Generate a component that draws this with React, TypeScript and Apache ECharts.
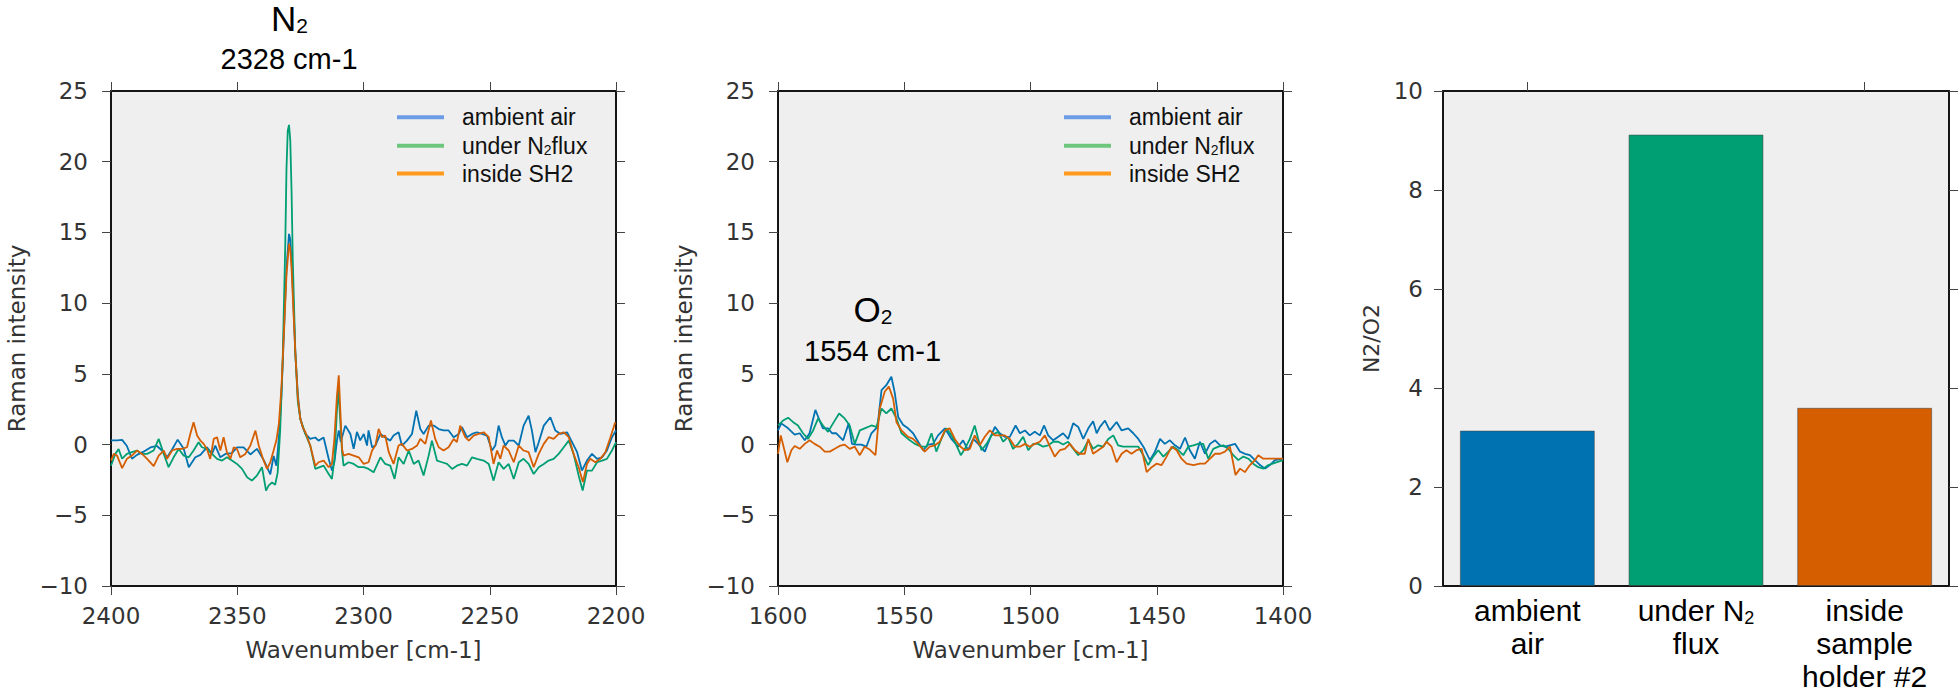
import React, { useEffect, useRef } from 'react';
import * as echarts from 'echarts';

// ---------- DATA ----------
const seriesNames = ['ambient air', 'under N2 flux', 'inside SH2'];
const lineColors = ['#0072B2', '#009E73', '#D55E00'];
const legendColors = ['#6c9ce6', '#6cc77c', '#ff9a1e'];

// N2 region spectra: [wavenumber, intensity]
const n2Ambient = [
  [2400, 0.3], [2397.5, 0.3], [2395.6, 0.33], [2393.7, -0.1], [2391.7, -1.0], [2389.7, -0.73], [2387.1, -0.5], [2384.4, -0.2],
  [2381.8, -0.1], [2379.8, -0.42], [2377.8, -0.9], [2375.8, -0.35], [2373.6, 0.35], [2371.2, -0.3], [2369.2, -1.6], [2366.6, -0.9],
  [2364.6, -0.73], [2362.0, -0.2], [2360.0, -0.66], [2358.7, -0.07], [2356.7, -0.9], [2354.7, -0.66], [2352.1, -0.6], [2350.1, -0.2],
  [2347.5, -0.2], [2344.8, -0.7], [2342.2, -0.3], [2339.5, -1.1], [2336.9, -2.1], [2335.6, -0.8], [2334.5, -1.5], [2333.5, 0.5],
  [2332.5, 3.5], [2331.5, 8], [2330.5, 12.5], [2329.5, 14.9], [2329, 14.5], [2328.5, 13], [2328, 11], [2327, 6.5], [2326, 3.5],
  [2325, 1.8], [2324, 1.2], [2323, 0.75], [2321.1, 0.4], [2319.1, 0.5], [2317.8, 0.28], [2315.8, 0.5], [2313.8, -1.0],
  [2312.5, -1.84], [2311.5, -1.2], [2310.5, 0.3], [2309.8, 1.0], [2309, 0.2], [2307.2, 1.34], [2305.2, 0.75], [2303.9, -0.3],
  [2302.6, 0.9], [2301.3, 0.3], [2299.9, 0.75], [2298.6, -0.07], [2298.0, 1.0], [2296.6, -0.2], [2295.3, -0.07], [2293.3, 0.75],
  [2291.4, 0.5], [2289.4, 0.28], [2288.1, 0.64], [2286.1, 0.87], [2284.8, -0.07], [2282.8, 0.28], [2280.8, 0.75], [2279.1, 2.4],
  [2277.5, 1.1], [2276.2, 0.75], [2274.2, 1.34], [2272.2, 1.34], [2270.2, 1.1], [2268.3, 1.0], [2266.3, 1.0], [2264.3, 0.52],
  [2262.3, 0.75], [2261.0, 1.23], [2259.0, 0.52], [2257.0, 0.75], [2255.1, 0.87], [2253.1, 0.75], [2251.1, 0.64], [2249.1, -0.42],
  [2247.8, -0.07], [2246.5, 1.34], [2245.2, 0.52], [2243.8, -0.07], [2242.5, 0.28], [2240.5, 0.28], [2238.5, -0.07], [2236.6, 1.34],
  [2234.6, 2.05], [2233.3, 0.99], [2231.9, -0.54], [2230.6, 0.17], [2228.6, 1.34], [2226.0, 1.93], [2224.0, 0.99], [2222.0, 0.75],
  [2219.4, 0.87], [2217.4, 0.17], [2215.4, -0.54], [2213.5, -1.84], [2211.5, -1.13], [2209.5, -0.66], [2207.5, -1.01],
  [2205.5, -0.9], [2203.6, -0.42], [2201.6, 0.52], [2200, 0.99],
];
const n2Flux = [
  [2400, -1.5], [2398.3, -0.66], [2397.0, -0.31], [2395.6, -1.0], [2393.7, -0.66], [2391.7, -0.54], [2389.7, -0.42], [2387.7, -0.66],
  [2385.7, -0.66], [2383.1, -0.42], [2381.1, 0.4], [2379.1, -0.66], [2377.2, -1.6], [2375.2, -0.9], [2373.2, -0.31], [2371.2, -0.78],
  [2369.2, -0.9], [2367.3, -0.42], [2365.3, 0.17], [2364.0, -0.19], [2362.0, -0.31], [2360.0, -0.66], [2358.0, -1.01], [2356.0, -1.13],
  [2354.1, -0.9], [2352.1, -1.13], [2350.1, -1.37], [2348.1, -1.72], [2346.1, -2.31], [2344.2, -2.55], [2342.2, -2.19], [2340.2, -1.6],
  [2338.6, -3.25], [2337.6, -2.9], [2336.2, -2.67], [2335, -2.85], [2334, -2.0], [2333, 1.0], [2332, 6], [2331, 14],
  [2330.5, 19.5], [2330, 22.2], [2329.5, 22.6], [2329, 21.5], [2328.5, 18], [2328, 13], [2327, 6.5], [2326, 3.0], [2325, 1.8],
  [2324, 1.3], [2323, 0.75], [2321.1, -0.07], [2319.1, -1.72], [2315.8, -1.49], [2313.8, -2.08], [2312.5, -2.43], [2311.5, -1.0],
  [2310.5, 2.5], [2310, 4.0], [2309.3, 2.0], [2308.5, -0.5], [2307.9, -1.49], [2305.9, -1.25], [2303.9, -1.37], [2301.9, -1.6],
  [2299.9, -1.6], [2298.0, -1.72], [2296.0, -1.96], [2293.3, -0.9], [2291.4, -1.37], [2289.4, -1.49], [2287.7, -2.43], [2286.1, -0.9],
  [2284.1, -1.37], [2282.1, -0.42], [2280.1, -1.37], [2278.2, -1.13], [2276.2, -2.19], [2274.2, -0.78], [2272.9, 0.28], [2270.9, -1.13],
  [2268.9, -1.25], [2266.9, -1.37], [2264.9, -1.72], [2263.0, -1.49], [2261.0, -1.37], [2259.0, -1.49], [2257.0, -0.9], [2255.1, -1.01],
  [2252.4, -1.13], [2250.4, -1.37], [2248.5, -2.55], [2246.5, -1.25], [2244.5, -1.72], [2242.5, -1.37], [2240.5, -2.43], [2238.5, -1.25],
  [2236.6, -1.01], [2234.6, -1.37], [2232.6, -2.08], [2230.6, -1.6], [2228.6, -1.37], [2226.7, -1.13], [2224.7, -1.01], [2222.7, -0.66],
  [2220.7, -0.19], [2218.7, 0.28], [2216.8, -0.66], [2214.8, -2.19], [2213.2, -3.25], [2211.5, -1.84], [2209.5, -1.84], [2207.5, -1.25],
  [2205.5, -1.13], [2203.6, -1.01], [2201.6, -0.42], [2200, 0.17],
];
const n2Inside = [
  [2400, -1.13], [2398.9, -0.66], [2397.6, -0.78], [2395.6, -1.67], [2393.7, -1.01], [2391.7, -0.78], [2389.7, -0.42], [2387.7, -0.66],
  [2385.7, -1.01], [2383.1, -1.53], [2381.1, -0.78], [2379.1, -0.42], [2377.8, -1.01], [2375.8, -0.42], [2373.9, -0.31], [2371.9, -0.31],
  [2369.9, -0.19], [2368.6, 0.75], [2367.3, 1.58], [2365.9, 0.64], [2364.6, 0.28], [2363.3, 0.05], [2362.0, -0.31], [2360.7, -1.01],
  [2359.3, 0.4], [2358.0, 0.52], [2356.7, -0.42], [2355.4, 0.52], [2354.1, -0.54], [2352.7, -1.01], [2351.4, -0.19], [2350.1, -0.31],
  [2348.8, -0.9], [2346.8, -0.66], [2344.8, -0.07], [2342.8, 0.99], [2341.5, -0.07], [2339.8, -1.01], [2338.2, -1.72], [2336.9, -1.25],
  [2335.6, -0.42], [2334.5, 0.3], [2333.5, 1.5], [2332.5, 4], [2331.5, 8], [2330.5, 12], [2329.5, 14.2], [2329, 13.8],
  [2328.5, 12.5], [2328, 10.5], [2327, 6.5], [2326, 3.3], [2325, 1.8], [2324, 1.2], [2323, 0.87], [2321.1, -0.07], [2319.1, -1.5],
  [2317.8, -1.25], [2315.8, -1.13], [2313.8, -1.6], [2312.5, -1.37], [2311.5, 0.5], [2310.5, 3.5], [2309.8, 4.9], [2309.2, 2.5],
  [2308.5, -0.3], [2307.9, -0.78], [2305.9, -0.66], [2303.9, -0.78], [2301.9, -0.9], [2299.9, -1.37], [2298.0, -1.25], [2296.6, -0.42],
  [2295.3, -0.07], [2294.0, 1.11], [2292.7, 0.52], [2291.4, 0.64], [2290.0, -0.54], [2288.1, -1.37], [2286.1, -0.07], [2284.8, 0.05],
  [2282.8, -0.42], [2280.8, -0.31], [2278.8, -0.07], [2277.5, 0.4], [2275.5, 0.05], [2273.3, 1.7], [2271.6, 0.4], [2270.2, -0.19],
  [2268.3, -0.42], [2266.3, -0.19], [2264.3, 0.4], [2263.0, 0.17], [2261.7, 1.34], [2259.7, 0.52], [2258.3, 0.28], [2256.4, 0.64],
  [2254.4, 0.75], [2252.4, 0.87], [2250.4, 0.52], [2248.5, -1.37], [2247.1, -0.42], [2245.8, -1.01], [2244.5, -0.07], [2242.5, -0.42],
  [2240.5, -1.25], [2238.5, -0.07], [2236.6, -0.42], [2234.6, -0.54], [2232.6, -1.6], [2230.6, -0.66], [2228.6, 0.05], [2226.7, 0.52],
  [2224.7, 0.4], [2222.7, 0.75], [2220.7, 0.87], [2218.7, 0.52], [2216.8, -0.66], [2214.8, -1.6], [2213.1, -2.65], [2211.5, -1.37],
  [2210.2, -1.01], [2208.2, -1.25], [2206.2, -1.01], [2204.2, -0.54], [2202.2, 0.52], [2200.3, 1.58],
];

// O2 region spectra
const o2Ambient = [
  [1600, 1.0], [1598.7, 1.5], [1596.0, 1.15], [1593.4, 0.7], [1591.4, 0.8], [1589.4, 0.3], [1587.5, 0.8], [1585.2, 2.45],
  [1583.5, 1.7], [1582.2, 1.15], [1580.2, 1.15], [1578.6, 0.8], [1576.9, 0.8], [1574.2, 0.3], [1572.0, 1.5], [1570.7, 0.05],
  [1569.0, 0], [1567.0, 0], [1565.0, -0.15], [1563.0, 0.8], [1560.6, 1.25], [1559.0, 3.85], [1557.1, 4.2], [1555.1, 4.8],
  [1553.8, 3.7], [1552.4, 1.95], [1550.5, 1.4], [1548.5, 1.15], [1546.5, 0.8], [1544.5, 0.2], [1542.5, -0.4], [1540.6, 0],
  [1538.6, 0.05], [1536.6, 0.65], [1533.9, 1.15], [1531.3, 0.4], [1528.7, -0.15], [1526.7, 0.3], [1524.7, -0.4], [1522.7, 0.4],
  [1520.7, 0.05], [1518.1, -0.5], [1516.1, 0.4], [1514.1, 1.25], [1512.2, 0.8], [1510.2, 0.55], [1508.2, 0.55], [1505.9, 1.35],
  [1504.2, 0.8], [1502.2, 1.0], [1500.3, 0.65], [1498.3, 0.9], [1496.3, 0.65], [1494.6, 1.35], [1493.0, 0.65], [1491.0, 0.3],
  [1489.0, 0.55], [1487.1, 0.8], [1485.1, 0.4], [1483.1, 1.5], [1481.1, 1.25], [1479.1, 0.4], [1477.1, 1.15], [1475.2, 1.65],
  [1473.8, 0.8], [1472.5, 1.25], [1470.5, 1.7], [1468.6, 1.0], [1465.9, 1.6], [1463.9, 1.0], [1461.3, 1.15], [1459.3, 0.8],
  [1457.3, 0.4], [1455.3, -0.15], [1452.7, -1.1], [1450.7, -0.5], [1448.7, 0.4], [1446.8, 0.05], [1444.8, 0.3], [1442.8, -0.05],
  [1440.8, -0.3], [1438.8, 0.5], [1436.9, -0.4], [1434.9, -1.0], [1432.9, 0.2], [1430.9, -0.65], [1428.9, 0.05], [1426.9, 0.3],
  [1424.9, -0.05], [1423.0, -0.15], [1421.0, -0.05], [1419.0, 0.05], [1417.0, -0.5], [1415.1, -0.65], [1413.1, -0.75],
  [1411.1, -1.1], [1409.1, -1.45], [1407.1, -1.7], [1405.2, -1.45], [1403.2, -1.1], [1400, -1.0],
];
const o2Flux = [
  [1600, 1.35], [1598.0, 1.7], [1596.0, 1.9], [1594.1, 1.6], [1592.1, 1.35], [1590.1, 0.8], [1588.1, 0.4], [1586.1, 1.0],
  [1584.1, 1.85], [1582.2, 1.35], [1580.2, 0.9], [1578.2, 1.5], [1575.8, 2.2], [1573.6, 1.85], [1571.6, 1.35], [1569.6, 0.05],
  [1567.6, 1.0], [1565.7, 1.15], [1563.0, 1.35], [1561.0, 1.25], [1559.0, 2.55], [1557.1, 2.2], [1555.1, 2.55], [1553.1, 1.85],
  [1551.1, 0.8], [1548.5, 0.4], [1545.8, 0.05], [1543.2, -0.15], [1541.2, -0.15], [1539.2, 0.8], [1537.3, -0.5], [1535.3, 0.4],
  [1533.3, 1.15], [1531.3, 0.65], [1529.3, -0.05], [1527.6, -0.75], [1526.0, -0.3], [1524.0, 0.4], [1522.1, 1.35], [1520.7, 0.4],
  [1519.4, -0.4], [1517.4, 0.05], [1515.5, 0.65], [1512.8, 0.9], [1510.8, 0.2], [1508.9, 0.55], [1506.9, -0.3], [1504.9, 0.05],
  [1502.9, 0.55], [1500.9, -0.4], [1498.9, 0.05], [1497.0, 0.05], [1495.0, -0.15], [1493.0, -0.05], [1491.0, 0.2], [1489.0, 0.2],
  [1487.1, 0], [1485.1, 0.2], [1483.1, -0.3], [1481.1, -0.75], [1479.1, -0.4], [1477.1, 0.3], [1475.2, -0.3], [1473.2, -0.05],
  [1471.2, -0.15], [1469.2, 0.4], [1467.2, 0.65], [1465.3, -0.05], [1463.3, -0.15], [1461.3, -0.15], [1459.3, -0.15],
  [1457.3, -0.15], [1455.3, -0.75], [1453.4, -1.45], [1451.4, -0.85], [1449.4, -0.4], [1447.4, -0.85], [1445.4, -0.5],
  [1443.5, -0.15], [1441.5, -0.4], [1439.5, -0.75], [1437.5, -0.15], [1435.5, -0.05], [1433.6, 0.05], [1431.6, 0.05],
  [1429.6, -1.0], [1427.6, -0.3], [1425.6, -0.15], [1423.6, -0.05], [1421.7, -0.3], [1419.7, -0.75], [1417.7, -1.1],
  [1415.7, -0.85], [1413.7, -1.0], [1411.8, -1.35], [1409.8, -1.6], [1407.8, -1.7], [1405.8, -1.45], [1400, -1.1],
];
const o2Inside = [
  [1600, -0.65], [1598.9, 0.65], [1597.6, -0.3], [1596.3, -1.25], [1594.7, -0.4], [1593.4, -0.1], [1591.4, -0.3], [1589.4, 0.05],
  [1587.5, 0.3], [1585.5, 0.05], [1583.5, -0.15], [1581.5, -0.5], [1579.5, -0.5], [1577.5, -0.3], [1575.6, -0.1], [1573.6, 0],
  [1571.6, -0.3], [1569.6, -0.15], [1567.6, -0.75], [1565.7, -0.15], [1563.7, -0.35], [1561.4, -0.75], [1559.7, 2.55],
  [1557.7, 3.75], [1556.1, 4.1], [1554.4, 3.25], [1553.1, 1.6], [1551.1, 1.0], [1548.5, 0.55], [1546.5, 0.4], [1544.5, 0.05],
  [1541.9, -0.5], [1539.9, -0.15], [1537.9, -0.05], [1535.9, 0.2], [1533.9, 1.0], [1532.0, 1.15], [1530.0, 0.4], [1528.0, -0.1],
  [1526.0, -0.4], [1524.0, -0.3], [1522.1, 0.65], [1520.1, -0.05], [1518.1, 0.55], [1516.1, 1.0], [1514.1, 0.65], [1512.2, 0.65],
  [1510.2, 0.65], [1508.2, 0.4], [1506.2, -0.15], [1504.2, -0.15], [1502.2, 0.05], [1500.3, -0.15], [1498.3, 0.05], [1496.3, 0.2],
  [1494.3, 0.65], [1492.3, -0.15], [1490.4, -0.85], [1488.4, -0.4], [1486.4, -0.3], [1484.4, 0.05], [1482.4, -0.4], [1480.5, -0.65],
  [1478.5, -0.65], [1477.1, 0.4], [1475.2, -0.65], [1473.2, -0.4], [1471.2, -0.15], [1469.9, 0.2], [1467.9, -0.15], [1465.9, -1.25],
  [1463.9, -0.65], [1462.0, -0.4], [1460.0, -0.65], [1458.0, -0.4], [1456.0, -0.3], [1454.0, -1.95], [1452.0, -1.6], [1450.1, -1.35],
  [1448.1, -1.45], [1446.1, -0.85], [1444.1, -0.15], [1442.1, -0.4], [1440.2, -1.0], [1438.2, -1.35], [1435.5, -1.45],
  [1432.9, -1.35], [1430.9, -1.35], [1428.9, -1.0], [1426.9, -0.65], [1424.9, -0.65], [1423.0, -0.5], [1421.0, -0.15],
  [1418.8, -2.15], [1417.0, -1.7], [1415.1, -1.95], [1413.1, -1.45], [1411.1, -1.1], [1409.8, -0.75], [1407.8, -1.0],
  [1405.8, -1.0], [1400, -1.0],
];

const n2Range = [2200, 2400];
const o2Range = [1400, 1600];
const intensityRange = [-10, 25];

const barCategories = ['ambient air', 'under N2 flux', 'inside sample holder #2'];
const barValues = [3.14, 9.12, 3.6];
const barColors = ['#0072B2', '#009E73', '#D55E00'];
const ratioRange = [0, 10];

// ---------- STYLE / LAYOUT ----------
const TICK_FONT = 'DejaVu Sans';
const ANNO_FONT = 'Liberation Sans, Arial, sans-serif';
const grids = [
  { left: 111, top: 91, width: 505, height: 495 },
  { left: 778, top: 91, width: 505, height: 495 },
  { left: 1443, top: 91, width: 506, height: 495 },
];

const fmt = (v: number) => (v < 0 ? '\u2212' + Math.abs(v) : String(v));

const axisLineStyle = { color: '#151515', width: 2 };
const tickStyle = { show: true, inside: false, length: 9, lineStyle: { color: '#444', width: 1 } };
const tickLabel = { fontFamily: TICK_FONT, fontSize: 23, color: '#333' };

function spectrumAxes(gi: number, range: number[]) {
  const x = [
    {
      gridIndex: gi, type: 'value', min: range[0], max: range[1], interval: 50, inverse: true,
      axisLine: { show: true, onZero: false, lineStyle: axisLineStyle },
      axisTick: tickStyle,
      axisLabel: { ...tickLabel, margin: 18, formatter: (v: number) => String(v) },
      splitLine: { show: false },
      name: 'Wavenumber [cm-1]', nameLocation: 'middle', nameGap: 52,
      nameTextStyle: { fontFamily: TICK_FONT, fontSize: 23, color: '#333' },
    },
    {
      gridIndex: gi, type: 'value', position: 'top', min: range[0], max: range[1], interval: 50, inverse: true,
      axisLine: { show: true, onZero: false, lineStyle: axisLineStyle },
      axisTick: tickStyle, axisLabel: { show: false }, splitLine: { show: false },
    },
  ];
  const y = [
    {
      gridIndex: gi, type: 'value', min: intensityRange[0], max: intensityRange[1], interval: 5,
      axisLine: { show: true, onZero: false, lineStyle: axisLineStyle },
      axisTick: tickStyle,
      axisLabel: { ...tickLabel, margin: 23, formatter: fmt },
      splitLine: { show: false },
      name: 'Raman intensity', nameLocation: 'middle', nameGap: 83, nameRotate: 90,
      nameTextStyle: { fontFamily: TICK_FONT, fontSize: 23, color: '#333' },
    },
    {
      gridIndex: gi, type: 'value', position: 'right', min: intensityRange[0], max: intensityRange[1], interval: 5,
      axisLine: { show: true, onZero: false, lineStyle: axisLineStyle },
      axisTick: tickStyle, axisLabel: { show: false }, splitLine: { show: false },
    },
  ];
  return { x, y };
}

function legendGraphics(panelLeft: number) {
  const rows = [117.3, 145.7, 173.5];
  const texts = ['ambient air', '{t|under N}{s|2}{t|flux}', 'inside SH2'];
  const els: any[] = [];
  rows.forEach((ry, i) => {
    els.push({
      type: 'line', silent: true, z: 50,
      shape: { x1: panelLeft + 286, y1: ry, x2: panelLeft + 333, y2: ry },
      style: { stroke: legendColors[i], lineWidth: 4 },
    });
    els.push({
      type: 'text', silent: true, z: 50, x: panelLeft + 351, y: ry,
      style: {
        text: texts[i], fill: '#111', fontFamily: ANNO_FONT, fontSize: 23,
        align: 'left', verticalAlign: 'middle',
        rich: {
          t: { fontFamily: ANNO_FONT, fontSize: 23, lineHeight: 23, fill: '#111' },
          s: { fontFamily: ANNO_FONT, fontSize: 14, lineHeight: 14, fill: '#111', verticalAlign: 'bottom' },
        },
      },
    });
  });
  return els;
}

function moleculeLabel(x: number, y: number, letter: string) {
  return {
    type: 'text', silent: true, z: 50, x, y,
    style: {
      text: `{a|${letter}}{b|2}`, align: 'center', verticalAlign: 'middle',
      rich: {
        a: { fontFamily: ANNO_FONT, fontSize: 35, lineHeight: 35, fill: '#000' },
        b: { fontFamily: ANNO_FONT, fontSize: 21, lineHeight: 21, fill: '#000', verticalAlign: 'bottom' },
      },
    },
  };
}
function plainLabel(x: number, y: number, text: string, size: number) {
  return {
    type: 'text', silent: true, z: 50, x, y,
    style: { text, fontFamily: ANNO_FONT, fontSize: size, fill: '#000', align: 'center', verticalAlign: 'middle' },
  };
}

const catLabelRich = [
  '{t|ambient}\n{t|air}',
  '{t|under N}{s|2}\n{t|flux}',
  '{t|inside}\n{t|sample}\n{t|holder #2}',
];

export default function App() {
  const ref = useRef<HTMLDivElement>(null);
  useEffect(() => {
    if (!ref.current) return;
    const chart = echarts.init(ref.current, undefined, { renderer: 'svg' });
    const a1 = spectrumAxes(0, n2Range);
    const a2 = spectrumAxes(1, o2Range);

    const lineSeries = (xi: number, yi: number, datasets: number[][][]) =>
      datasets.map((d, i) => ({
        type: 'line', name: seriesNames[i], xAxisIndex: xi, yAxisIndex: yi,
        data: d, showSymbol: false, symbol: 'none', smooth: false,
        lineStyle: { color: lineColors[i], width: 1.8 }, itemStyle: { color: lineColors[i] },
        z: 3 + i,
      }));

    const option: any = {
      animation: false,
      textStyle: { fontFamily: TICK_FONT },
      grid: grids.map((g) => ({
        ...g, containLabel: false, outerBoundsMode: 'none',
        show: true, backgroundColor: '#efefef', borderWidth: 0,
      })),
      xAxis: [
        ...a1.x, ...a2.x,
        {
          gridIndex: 2, type: 'category', data: barCategories,
          axisLine: { show: true, onZero: false, lineStyle: axisLineStyle },
          axisTick: { show: false },
          axisLabel: {
            margin: 8, interval: 0,
            formatter: (_v: string, idx: number) => catLabelRich[idx],
            rich: {
              t: { fontFamily: ANNO_FONT, fontSize: 30, lineHeight: 33, color: '#000' },
              s: { fontFamily: ANNO_FONT, fontSize: 18, lineHeight: 22, color: '#000', verticalAlign: 'bottom' },
            },
          },
        },
        {
          gridIndex: 2, type: 'category', position: 'top', data: barCategories,
          axisLine: { show: true, onZero: false, lineStyle: axisLineStyle },
          axisTick: { ...tickStyle, alignWithLabel: true }, axisLabel: { show: false },
        },
      ],
      yAxis: [
        ...a1.y, ...a2.y,
        {
          gridIndex: 2, type: 'value', min: ratioRange[0], max: ratioRange[1], interval: 2,
          axisLine: { show: true, onZero: false, lineStyle: axisLineStyle },
          axisTick: tickStyle,
          axisLabel: { ...tickLabel, margin: 20 },
          splitLine: { show: false },
          name: 'N2/O2', nameLocation: 'middle', nameGap: 61, nameRotate: 90,
          nameTextStyle: { fontFamily: TICK_FONT, fontSize: 22, color: '#333' },
        },
        {
          gridIndex: 2, type: 'value', position: 'right', min: ratioRange[0], max: ratioRange[1], interval: 2,
          axisLine: { show: true, onZero: false, lineStyle: axisLineStyle },
          axisTick: tickStyle, axisLabel: { show: false }, splitLine: { show: false },
        },
      ],
      series: [
        ...lineSeries(0, 0, [n2Ambient, n2Flux, n2Inside]),
        ...lineSeries(2, 2, [o2Ambient, o2Flux, o2Inside]),
        {
          type: 'bar', name: 'N2/O2', xAxisIndex: 4, yAxisIndex: 4,
          barCategoryGap: '20%',
          data: barValues.map((v, i) => ({
            value: v,
            itemStyle: { color: barColors[i], borderColor: 'rgba(70,70,70,0.55)', borderWidth: 1 },
          })),
        },
      ],
      graphic: [
        moleculeLabel(289.5, 18.5, 'N'),
        plainLabel(289, 59, '2328 cm-1', 29),
        moleculeLabel(873, 309, 'O'),
        plainLabel(872.5, 351, '1554 cm-1', 29),
        ...legendGraphics(grids[0].left),
        ...legendGraphics(grids[1].left),
      ],
    };
    chart.setOption(option);
    return () => chart.dispose();
  }, []);
  return <div ref={ref} style={{ position: 'absolute', left: 0, top: 0, width: 1960, height: 694 }} />;
}
